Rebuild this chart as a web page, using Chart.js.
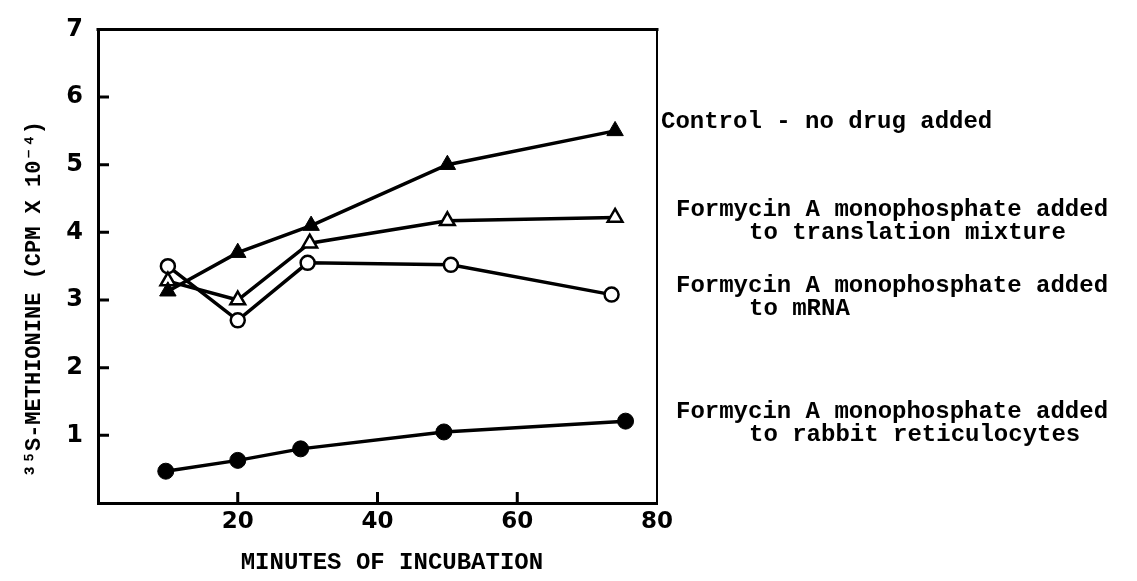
<!DOCTYPE html>
<html>
<head>
<meta charset="utf-8">
<script src="https://cdn.jsdelivr.net/npm/chart.js@4/dist/chart.umd.min.js"></script>
<style>
  html, body { margin: 0; padding: 0; background: #fff; }
  #wrap { width: 1137px; height: 581px; position: relative; }
</style>
</head>
<body>
<div id="wrap"><canvas id="incubation"></canvas></div>
<script>
// minutes of incubation / counts (CPM x 10^-4) for each curve
const controlMin = [10, 20, 30.5, 50, 74];
const controlCpm = [3.13, 3.7, 4.1, 5.0, 5.5];
const translationMin = [10, 20, 30.3, 50, 74];
const translationCpm = [3.28, 3.0, 3.84, 4.17, 4.22];
const mrnaMin = [10, 20, 30, 50.5, 73.5];
const mrnaCpm = [3.5, 2.7, 3.55, 3.52, 3.08];
const reticMin = [9.7, 20, 29, 49.5, 75.5];
const reticCpm = [0.47, 0.63, 0.8, 1.05, 1.21];

const seriesNames = [
  "Control - no drug added",
  "Formycin A monophosphate added|to translation mixture",
  "Formycin A monophosphate added|to mRNA",
  "Formycin A monophosphate added|to rabbit reticulocytes"
];
const xTicks = [20, 40, 60, 80];
const yTicks = [1, 2, 3, 4, 5, 6, 7];

const typewriter = "'Liberation Mono', 'DejaVu Sans Mono', monospace";

function pts(xs, ys) {
  return xs.map((v, i) => ({ x: v, y: ys[i] }));
}

// box top/right edges, inward tick marks and the curve labels on the right
const extras = {
  id: "extras",
  afterDraw(chart) {
    const { ctx, chartArea: a, scales: { x, y } } = chart;
    ctx.save();
    ctx.strokeStyle = "#000";
    ctx.lineCap = "square";
    ctx.lineWidth = 3;
    ctx.beginPath();
    ctx.moveTo(a.left, a.top);
    ctx.lineTo(a.right, a.top);
    ctx.stroke();
    ctx.lineWidth = 2;
    ctx.beginPath();
    ctx.moveTo(a.right, a.top);
    ctx.lineTo(a.right, a.bottom);
    ctx.stroke();

    ctx.lineWidth = 3;
    ctx.lineCap = "butt";
    ctx.beginPath();
    yTicks.slice(0, -1).forEach(v => {
      const py = y.getPixelForValue(v);
      ctx.moveTo(a.left, py);
      ctx.lineTo(a.left + 11, py);
    });
    xTicks.slice(0, -1).forEach(v => {
      const px = x.getPixelForValue(v);
      ctx.moveTo(px, a.bottom);
      ctx.lineTo(px, a.bottom - 11);
    });
    ctx.stroke();

    ctx.fillStyle = "#000";
    ctx.font = "bold 24px " + typewriter;
    ctx.textBaseline = "middle";
    ctx.textAlign = "left";
    const spots = [[661, 122], [676, 210], [676, 286], [676, 412]];
    seriesNames.forEach((name, i) => {
      const lines = name.split("|");
      ctx.fillText(lines[0], spots[i][0], spots[i][1]);
      if (lines[1]) ctx.fillText(lines[1], spots[i][0] + 73, spots[i][1] + 23);
    });
    ctx.restore();
  }
};

const line = { borderColor: "#000", borderWidth: 3.5, pointBorderColor: "#000", tension: 0 };

new Chart(document.getElementById("incubation"), {
  type: "line",
  data: {
    datasets: [
      Object.assign({}, line, {
        label: seriesNames[0], data: pts(controlMin, controlCpm),
        pointStyle: "triangle", pointRadius: 9.5, pointBackgroundColor: "#000", pointBorderWidth: 1
      }),
      Object.assign({}, line, {
        label: seriesNames[1], data: pts(translationMin, translationCpm),
        pointStyle: "triangle", pointRadius: 8.5, pointBackgroundColor: "#fff", pointBorderWidth: 2.5
      }),
      Object.assign({}, line, {
        label: seriesNames[2], data: pts(mrnaMin, mrnaCpm),
        pointStyle: "circle", pointRadius: 7, pointBackgroundColor: "#fff", pointBorderWidth: 2.5
      }),
      Object.assign({}, line, {
        label: seriesNames[3], data: pts(reticMin, reticCpm),
        pointStyle: "circle", pointRadius: 8, pointBackgroundColor: "#000", pointBorderWidth: 1
      })
    ]
  },
  options: {
    responsive: true,
    maintainAspectRatio: false,
    animation: false,
    layout: { padding: { top: 20, right: 480, left: 0, bottom: 0 } },
    plugins: { legend: { display: false }, tooltip: { enabled: false } },
    scales: {
      x: {
        type: "linear",
        min: 0,
        max: 80,
        afterBuildTicks: s => { s.ticks = xTicks.map(v => ({ value: v })); },
        afterFit: s => { s.height = 78; },
        grid: { display: false, drawTicks: false },
        border: { display: true, color: "#000", width: 3 },
        ticks: { color: "#000", padding: 5, font: { family: "'DejaVu Sans'", size: 23, weight: "bold" } },
        title: {
          display: true,
          text: "  MINUTES OF INCUBATION",
          color: "#000",
          font: { family: typewriter, size: 24, weight: "bold" },
          padding: { top: 0, bottom: 4 }
        }
      },
      y: {
        min: 0,
        max: 7,
        afterBuildTicks: s => { s.ticks = yTicks.map(v => ({ value: v })); },
        afterFit: s => { s.width = 98; },
        grid: { display: false, drawTicks: false },
        border: { display: true, color: "#000", width: 3 },
        ticks: { color: "#000", padding: 15, font: { family: "'DejaVu Sans'", size: 24, weight: "bold" } },
        title: {
          display: true,
          text: "³⁵S-METHIONINE (CPM X 10⁻⁴)     ",
          color: "#000",
          font: { family: typewriter, size: 22, weight: "bold" },
          padding: { top: 21, bottom: 0 }
        }
      }
    }
  },
  plugins: [extras]
});
</script>
</body>
</html>
